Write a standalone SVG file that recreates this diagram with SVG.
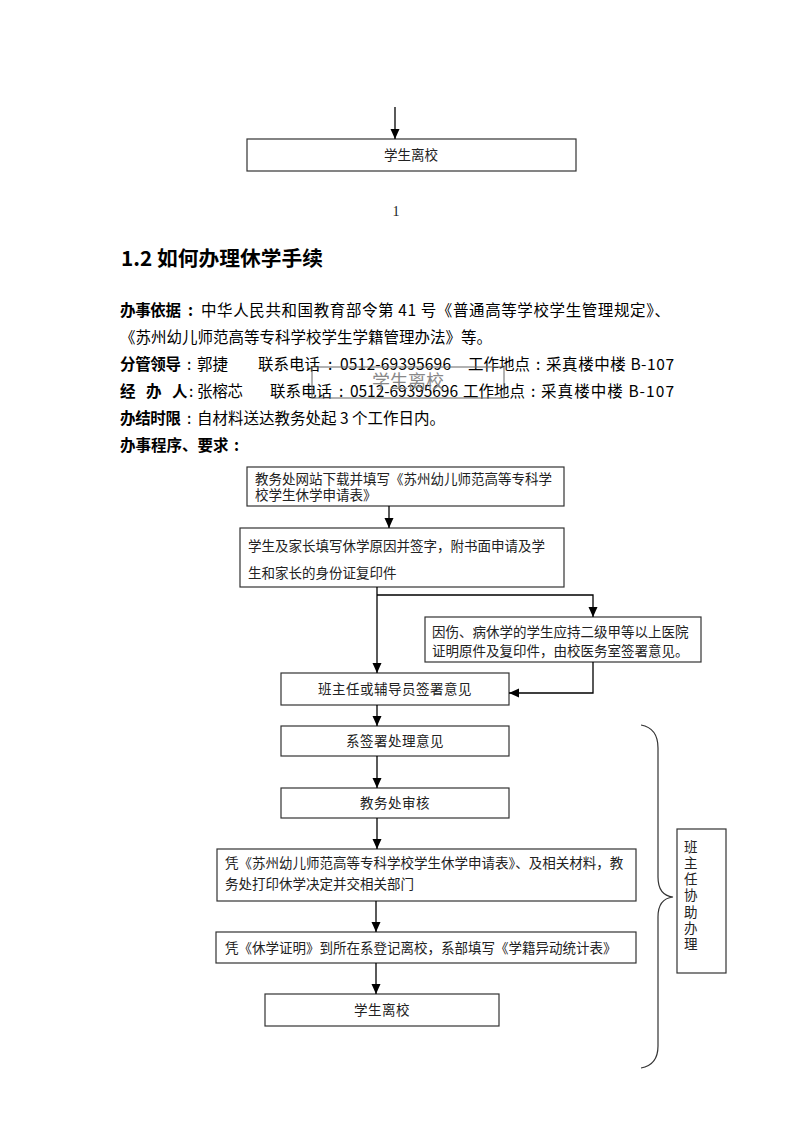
<svg xmlns="http://www.w3.org/2000/svg" width="794" height="1123" viewBox="0 0 794 1123">
<defs>
<style>
.hd{font-family:"Noto Sans CJK SC","Liberation Sans",sans-serif;font-size:15.5px;fill:#000}
.b{font-weight:bold}
.bx{fill:#fff;stroke:#333;stroke-width:1.2}
.t{font-family:"Liberation Serif","Noto Sans CJK SC",serif;font-size:13.5px;fill:#222}
.c{text-anchor:middle}
.ln{fill:none;stroke:#000;stroke-width:1.3}
</style>
<marker id="ah" markerUnits="userSpaceOnUse" markerWidth="10" markerHeight="10" viewBox="0 0 10 10" refX="10" refY="5" orient="auto">
<path d="M0,0.5 L10,5 L0,9.5 Z" fill="#000"/>
</marker>
</defs>
<rect width="794" height="1123" fill="#fff"/>

<g id="top-leave">
<rect class="bx" x="247" y="139" width="329" height="32"/>
<text class="t c" x="411" y="160">学生离校</text>
</g>
<text id="page-number" x="396" y="216" font-family="Liberation Serif,serif" font-size="14" fill="#222" text-anchor="middle">1</text>

<text id="title" x="121" y="266" font-family="'Noto Sans CJK SC','Liberation Sans',sans-serif" font-size="20.5" font-weight="bold" fill="#000" textLength="202" lengthAdjust="spacingAndGlyphs">1.2 如何办理休学手续</text>

<g id="header">
<text class="hd" y="316"><tspan class="b" x="120" textLength="61">办事依据</tspan><tspan class="b" x="188">:</tspan><tspan x="201" textLength="469" lengthAdjust="spacing">中华人民共和国教育部令第 41 号《普通高等学校学生管理规定》、</tspan></text>
<text class="hd" x="120" y="343">《苏州幼儿师范高等专科学校学生学籍管理办法》等。</text>
<text class="hd" y="370"><tspan class="b" x="120" textLength="61">分管领导</tspan><tspan x="187">:</tspan><tspan x="197" textLength="31">郭捷</tspan><tspan x="258" textLength="62">联系电话</tspan><tspan x="328">:</tspan><tspan x="340" textLength="111">0512-69395696</tspan><tspan x="468" textLength="62">工作地点</tspan><tspan x="536">:</tspan><tspan x="546" textLength="128">采真楼中楼 B-107</tspan></text>
<text class="hd" y="397"><tspan class="b" x="120">经</tspan><tspan class="b" x="146">办</tspan><tspan class="b" x="172">人</tspan><tspan x="189">:</tspan><tspan x="197" textLength="46">张榕芯</tspan><tspan x="270" textLength="62">联系电话</tspan><tspan x="339">:</tspan><tspan x="350" textLength="108">0512-69395696</tspan><tspan x="463" textLength="62">工作地点</tspan><tspan x="531">:</tspan><tspan x="541" textLength="133">采真楼中楼 B-107</tspan></text>
<text class="hd" y="424"><tspan class="b" x="120" textLength="61">办结时限</tspan><tspan x="187">:</tspan><tspan x="197">自材料送达教务处起 3 个工作日内。</tspan></text>
<text class="hd b" y="451"><tspan x="120">办事程序、要求</tspan><tspan x="234">:</tspan></text>
</g>

<g id="ghost-box">
<rect x="312" y="367" width="192" height="31" fill="none" stroke="#666" stroke-width="1"/>
<text x="408" y="388" text-anchor="middle" font-family="'Liberation Serif','Noto Sans CJK SC',serif" font-size="18" fill="#888">学生离校</text>
</g>

<g id="step1">
<rect class="bx" x="247" y="467" width="317" height="39"/>
<text class="t" x="255" y="484">教务处网站下载并填写《苏州幼儿师范高等专科学</text>
<text class="t" x="255" y="500">校学生休学申请表》</text>
</g>
<g id="step2">
<rect class="bx" x="240" y="528" width="324" height="59"/>
<text class="t" x="248" y="551" font-size="14">学生及家长填写休学原因并签字，附书面申请及学</text>
<text class="t" x="248" y="578" font-size="14">生和家长的身份证复印件</text>
</g>
<g id="step-medical">
<rect class="bx" x="425" y="617" width="276" height="45"/>
<text class="t" x="432" y="637">因伤、病休学的学生应持二级甲等以上医院</text>
<text class="t" x="432" y="656">证明原件及复印件，由校医务室签署意见。</text>
</g>
<g id="step3">
<rect class="bx" x="281" y="673" width="228" height="32"/>
<text class="t c" x="395" y="694" letter-spacing="0.5">班主任或辅导员签署意见</text>
</g>
<g id="step4">
<rect class="bx" x="281" y="726" width="228" height="30"/>
<text class="t c" x="395" y="746" letter-spacing="0.5">系签署处理意见</text>
</g>
<g id="step5">
<rect class="bx" x="281" y="788" width="228" height="30"/>
<text class="t c" x="395" y="808" letter-spacing="0.5">教务处审核</text>
</g>
<g id="step6">
<rect class="bx" x="217" y="849" width="419" height="52"/>
<text class="t" x="225" y="868">凭《苏州幼儿师范高等专科学校学生休学申请表》、及相关材料，教</text>
<text class="t" x="225" y="889">务处打印休学决定并交相关部门</text>
</g>
<g id="step7">
<rect class="bx" x="216" y="932" width="420" height="31"/>
<text class="t" x="225" y="953" font-size="14">凭《休学证明》到所在系登记离校，系部填写《学籍异动统计表》</text>
</g>
<g id="step8">
<rect class="bx" x="265" y="994" width="234" height="32"/>
<text class="t c" x="382" y="1015" letter-spacing="0.5">学生离校</text>
</g>

<g id="assist">
<path d="M641,725 C652,727 658,735 658,748 V877 C658,890 664,896 673,897 C664,898 658,904 658,917 V1046 C658,1059 652,1066 641,1068" fill="none" stroke="#333" stroke-width="1.2"/>
<rect class="bx" x="677" y="829" width="49" height="144"/>
<text class="t" x="684" font-size="14"><tspan x="684" y="852">班</tspan><tspan x="684" y="868">主</tspan><tspan x="684" y="884">任</tspan><tspan x="684" y="900">协</tspan><tspan x="684" y="917">助</tspan><tspan x="684" y="933">办</tspan><tspan x="684" y="949">理</tspan></text>
</g>

<g id="connectors">
<path class="ln" d="M395,107 V139" marker-end="url(#ah)"/>
<path class="ln" d="M389,506 V528" marker-end="url(#ah)"/>
<path class="ln" d="M377,587 V673" marker-end="url(#ah)"/>
<path class="ln" d="M377,595 H593 V617" marker-end="url(#ah)"/>
<path class="ln" d="M593,662 V693 H509" marker-end="url(#ah)"/>
<path class="ln" d="M377,705 V726" marker-end="url(#ah)"/>
<path class="ln" d="M377,756 V788" marker-end="url(#ah)"/>
<path class="ln" d="M377,818 V849" marker-end="url(#ah)"/>
<path class="ln" d="M376,901 V932" marker-end="url(#ah)"/>
<path class="ln" d="M376,963 V994" marker-end="url(#ah)"/>
</g>
</svg>
